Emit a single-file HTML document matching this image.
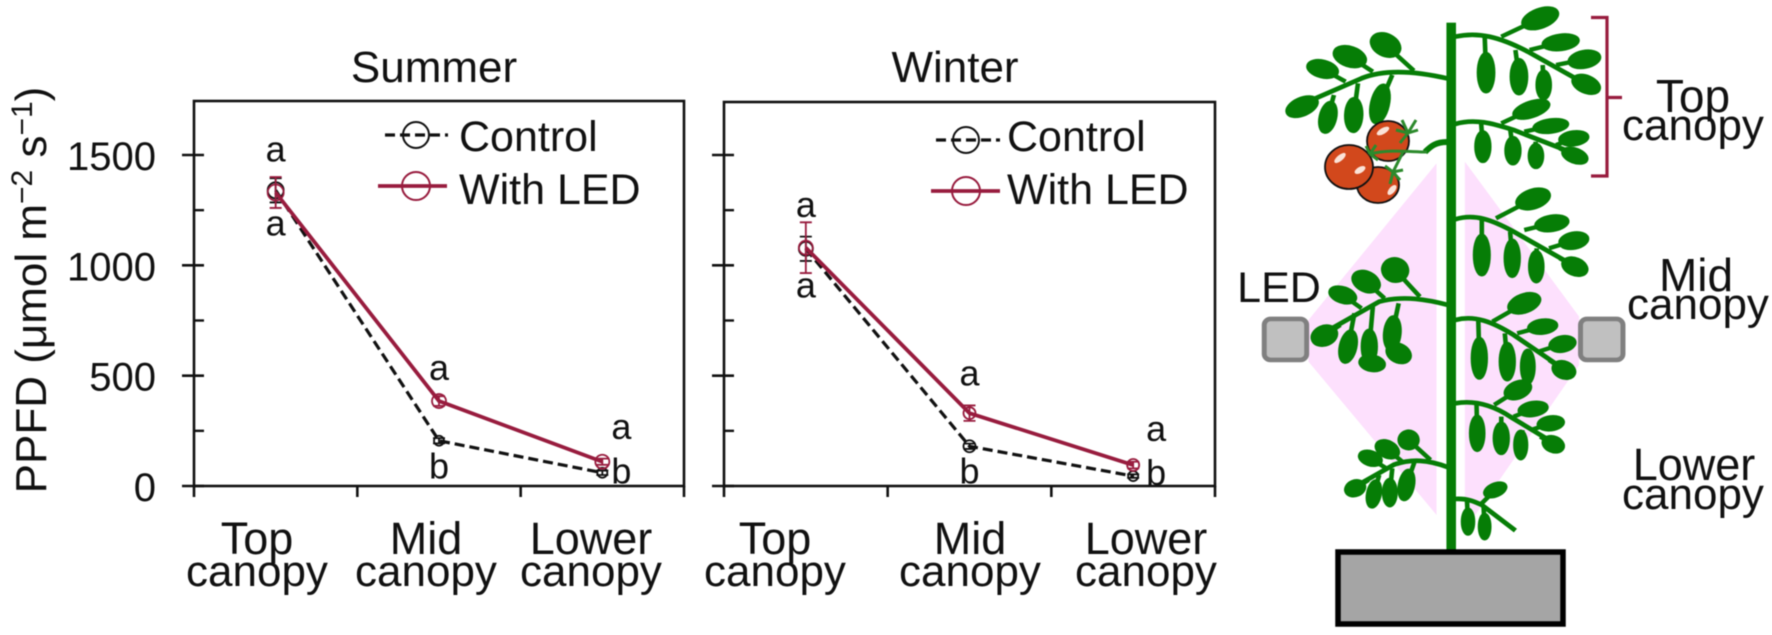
<!DOCTYPE html>
<html lang="en">
<head>
<meta charset="utf-8">
<title>PPFD by canopy position in summer and winter</title>
<style>
html,body{margin:0;padding:0;background:#fff;}
body{width:1772px;height:635px;overflow:hidden;}
svg{display:block;font-family:"Liberation Sans",sans-serif;fill:#111;filter:blur(0.5px);}
text{fill:#111;}
</style>
</head>
<body>
<svg id="fig" width="1772" height="635" viewBox="0 0 1772 635" xmlns="http://www.w3.org/2000/svg">
  <rect x="0" y="0" width="1772" height="635" fill="#fff"/>
  <text transform="translate(46,290) rotate(-90)" text-anchor="middle" font-size="44">PPFD (μmol m<tspan font-size="30" dy="-14">−2</tspan><tspan dy="14"> s</tspan><tspan font-size="30" dy="-14">−1</tspan><tspan dy="14">)</tspan></text>
  <g id="charts"></g>
  <g id="plant"></g>
  <g id="plant-labels" font-size="44" text-anchor="middle">
    <text x="1693" y="112" font-size="46">Top</text>
    <text x="1693" y="140">canopy</text>
    <text x="1696" y="291" font-size="46">Mid</text>
    <text x="1698" y="319">canopy</text>
    <text x="1694" y="480" font-size="45">Lower</text>
    <text x="1693" y="509">canopy</text>
    <text x="1279" y="302" font-size="43">LED</text>
  </g>
</svg>
<script>
var NS = 'http://www.w3.org/2000/svg';
function mk(parent, tag, attrs, txt) {
  var e = document.createElementNS(NS, tag);
  for (var k in attrs) e.setAttribute(k, attrs[k]);
  if (txt !== undefined) e.textContent = txt;
  parent.appendChild(e);
  return e;
}

/* ---- chart data ---- */
var categories = [['Top', 'canopy'], ['Mid', 'canopy'], ['Lower', 'canopy']];
var yTickLabels = [0, 500, 1000, 1500];
var yMinorTicks = [250, 750, 1250];
var seriesNames = ['Control', 'With LED'];

var summerControl = [1340, 205, 60];
var summerControlErr = [55, 12, 10];
var summerLed = [1330, 385, 110];
var summerLedErr = [70, 22, 14];
var summerLedLetters = ['a', 'a', 'a'];
var summerLedLetterAt = [1470, 480, 212];
var summerControlLetters = ['a', 'b', 'b'];
var summerControlLetterAt = [1135, 35, 12];

var winterControl = [1075, 180, 45];
var winterControlErr = [55, 12, 8];
var winterLed = [1080, 330, 95];
var winterLedErr = [115, 35, 15];
var winterLedLetters = ['a', 'a', 'a'];
var winterLedLetterAt = [1220, 455, 205];
var winterControlLetters = ['a', 'b', 'b'];
var winterControlLetterAt = [855, 12, 5];

/* ---- panel frames ---- */
var PANELS = [
  {key:'summer', title:'Summer', titleX:434, left:194, right:684, top:101, control:summerControl, controlErr:summerControlErr, led:summerLed, ledErr:summerLedErr,
   ledL:summerLedLetters, ledAt:summerLedLetterAt, ctlL:summerControlLetters, ctlAt:summerControlLetterAt, showY:true,
   catX:[257,426,591], nudge:19, legText:459, legCtl:[385,448,416,135], legLed:[378,447,416,186], r:[8,7,7], rc:[8,5,5]},
  {key:'winter', title:'Winter', titleX:955, left:724, right:1215, top:102, control:winterControl, controlErr:winterControlErr, led:winterLed, ledErr:winterLedErr,
   ledL:winterLedLetters, ledAt:winterLedLetterAt, ctlL:winterControlLetters, ctlAt:winterControlLetterAt, showY:false,
   catX:[775,970,1146], nudge:23, legText:1007, legCtl:[936,1000,966,140], legLed:[931,1000,966,191], r:[7,6,6], rc:[7,6,5]}
];
var Y0 = 486, PX_PER_UNIT = (486 - 155) / 1500;
var LED_COLOR = '#981c3e', INK = '#111';
function yScale(v) { return Y0 - v * PX_PER_UNIT; }

function drawSeries(g, p, xOf, vals, errs, radii, color, dash, width, name) {
  var d = vals.map(function (v, i) { return (i ? 'L' : 'M') + xOf(i) + ',' + yScale(v); }).join(' ');
  var line = mk(g, 'path', {d:d, fill:'none', stroke:color, 'stroke-width':width});
  
  
  if (dash) line.setAttribute('stroke-dasharray', dash);
  vals.forEach(function (v, i) {
    var x = xOf(i), hi = yScale(v + errs[i]), lo = yScale(v - errs[i]);
    var eb = mk(g, 'path', {d:'M' + x + ',' + hi + ' V' + lo + ' M' + (x - 6) + ',' + hi + ' H' + (x + 6) + ' M' + (x - 6) + ',' + lo + ' H' + (x + 6), fill:'none', stroke:color, 'stroke-width':1.8});
    
    
    var c = mk(g, 'circle', {cx:x, cy:yScale(v), r:radii[i], fill:'none', stroke:color, 'stroke-width':1.8});
    
    
  });
}

PANELS.forEach(function (p) {
  var g = mk(document.getElementById('charts'), 'g', {});
  
  
  var band = (p.right - p.left) / categories.length;
  function xOf(i) { return p.left + band * (i + 0.5); }

  var title = mk(g, 'text', {x:p.titleX, y:82, 'text-anchor':'middle', 'font-size':44}, p.title);
  
  

  var frame = mk(g, 'rect', {x:p.left, y:p.top, width:p.right - p.left, height:Y0 - p.top, fill:'none', stroke:INK, 'stroke-width':2.6});
  
  

  yTickLabels.forEach(function (v) {
    var t = mk(g, 'line', {x1:p.left - 12, x2:p.left + 10, y1:yScale(v), y2:yScale(v), stroke:INK, 'stroke-width':2.6});
    
    
    if (p.showY) {
      var l = mk(g, 'text', {x:156, y:yScale(v) + 15, 'text-anchor':'end', 'font-size':40}, String(v));
      
      
    }
  });
  yMinorTicks.forEach(function (v) {
    var t = mk(g, 'line', {x1:p.left, x2:p.left + 10, y1:yScale(v), y2:yScale(v), stroke:INK, 'stroke-width':2.4});
    
    
  });
  for (var i = 0; i <= categories.length; i++) {
    var tx = mk(g, 'line', {x1:p.left + band * i, x2:p.left + band * i, y1:Y0, y2:Y0 + 11, stroke:INK, 'stroke-width':2.6});
    
    
  }
  categories.forEach(function (c, i) {
    var a = mk(g, 'text', {x:p.catX[i], y:554, 'text-anchor':'middle', 'font-size':45}, c[0]);
    
    
    var b = mk(g, 'text', {x:p.catX[i], y:586, 'text-anchor':'middle', 'font-size':44}, c[1]);
    
    
  });

  drawSeries(g, p, xOf, p.control, p.controlErr, p.rc, '#111', '10 5', 3.2, p.key + '-control');
  drawSeries(g, p, xOf, p.led, p.ledErr, p.r, LED_COLOR, null, 3.8, p.key + '-led');

  [[p.ledL, p.ledAt], [p.ctlL, p.ctlAt]].forEach(function (pair) {
    pair[0].forEach(function (letter, i) {
      var nudge = i === 2 ? p.nudge : 0;
      var t = mk(g, 'text', {x:xOf(i) + nudge, y:yScale(pair[1][i]), 'text-anchor':'middle', 'font-size':36}, letter);
      
      
    });
  });

  var lc = mk(g, 'g', {});
  
  
  mk(lc, 'line', {x1:p.legCtl[0], x2:p.legCtl[1], y1:p.legCtl[3], y2:p.legCtl[3], stroke:'#111', 'stroke-width':3.2, 'stroke-dasharray':'10 5'});
  mk(lc, 'circle', {cx:p.legCtl[2], cy:p.legCtl[3], r:13, fill:'none', stroke:'#111', 'stroke-width':2});
  mk(lc, 'text', {x:p.legText, y:151, 'font-size':43}, seriesNames[0]);

  var ll = mk(g, 'g', {});
  
  
  mk(ll, 'line', {x1:p.legLed[0], x2:p.legLed[1], y1:p.legLed[3], y2:p.legLed[3], stroke:LED_COLOR, 'stroke-width':3.8});
  mk(ll, 'circle', {cx:p.legLed[2], cy:p.legLed[3], r:14, fill:'none', stroke:LED_COLOR, 'stroke-width':2});
  mk(ll, 'text', {x:p.legText, y:204, 'font-size':43}, seriesNames[1]);
});

/* ---- plant illustration ---- */
var plant = document.getElementById('plant');
var art = mk(plant, 'g', {transform:'translate(1220,0) scale(0.3538,0.3333)'});



var GREEN = '#067d06';
var lightLeft = mk(art, 'polygon', {points:'612,490 250,960 250,1085 612,1545', fill:'#fde0fd'});


var lightRight = mk(art, 'polygon', {points:'692,485 1015,950 1015,1095 692,1590', fill:'#fde0fd'});



/* each leaf: cx, cy, rx, ry, rotation, stem-attach x, stem-attach y */
var branches = [
  {main:'M645,236 C560,215 470,205 400,235 L270,295', leaves:[
    [232,320,46,25,-25,270,295],[305,352,22,46,12,322,285],[378,345,23,50,2,390,250],[452,312,24,58,12,487,225],
    [290,207,43,24,15,355,245],[367,170,46,28,20,432,215],[468,135,43,31,30,548,212]]},
  {main:'M665,110 C730,95 790,110 870,155 L1030,250', leaves:[
    [905,55,52,27,-22,795,110],[963,127,50,22,-8,875,150],[1030,178,44,24,-12,950,195],[1035,253,40,24,25,980,220],
    [752,218,22,58,0,748,105],[845,230,22,52,0,835,150],[915,255,19,42,0,912,195]]},
  {main:'M665,372 C720,355 770,370 830,390 L1000,460', leaves:[
    [880,328,52,22,-20,795,370],[935,378,48,19,-8,860,395],[1000,415,40,20,-8,950,435],[1003,467,36,20,22,960,445],
    [743,440,20,45,0,738,368],[828,452,20,40,0,820,385],[893,468,19,35,0,892,425]]},
  {main:'M665,658 C720,640 770,660 830,695 L1005,800', leaves:[
    [885,597,48,27,-20,780,655],[938,670,46,22,-10,860,690],[1000,722,40,23,-12,930,745],[1003,800,36,24,25,960,775],
    [740,765,21,60,0,740,650],[826,775,20,55,0,820,695],[894,800,19,46,0,895,745]]},
  {main:'M645,915 C590,900 520,885 450,905 L300,995', leaves:[
    [347,885,38,22,20,400,925],[413,845,40,28,30,465,895],[495,810,36,34,30,565,890],[295,1007,36,28,-25,340,975],
    [362,1040,22,48,12,380,940],[422,1040,20,50,0,432,920],[430,1090,35,22,10,425,1040],[487,1000,22,50,5,505,910],[505,1060,35,26,30,490,1010]]},
  {main:'M665,960 C720,945 770,965 830,1005 L975,1110', leaves:[
    [860,910,46,26,-22,770,965],[912,980,40,20,-8,840,1000],[968,1032,36,22,-12,900,1055],[972,1110,32,24,25,930,1080],
    [733,1075,20,60,0,730,960],[812,1085,20,55,0,805,1000],[870,1100,18,50,0,870,1050],[842,1170,38,24,-25,775,1215]]},
  {main:'M665,1210 C720,1200 770,1215 820,1250 L945,1330', leaves:[
    [885,1227,40,20,-10,830,1250],[935,1270,36,20,-8,880,1290],[942,1333,30,22,25,905,1310],
    [727,1300,19,52,0,725,1210],[795,1315,20,46,0,795,1250],[850,1335,17,42,0,855,1290]]},
  {main:'M645,1402 C590,1380 540,1375 490,1395 L390,1455', leaves:[
    [425,1375,32,20,20,470,1405],[473,1348,34,23,30,515,1385],[533,1320,27,27,30,595,1380],[382,1465,28,22,-25,420,1440],
    [435,1482,18,40,10,450,1425],[480,1478,18,40,0,487,1405],[527,1455,20,45,10,550,1385]]},
  {main:'M665,1497 C700,1495 720,1505 740,1515 L835,1592', leaves:[
    [778,1470,32,18,-25,735,1515],[701,1565,16,38,0,698,1500],[748,1580,15,37,0,745,1520]]}
];
branches.forEach(function (b) {
  var g = mk(art, 'g', {});
  
  
  mk(g, 'path', {d:b.main, fill:'none', stroke:GREEN, 'stroke-width':14});
  b.leaves.forEach(function (f) {
    mk(g, 'line', {x1:f[5], y1:f[6], x2:f[0], y2:f[1], stroke:GREEN, 'stroke-width':13});
    var leaf = mk(g, 'ellipse', {cx:f[0], cy:f[1], rx:f[2], ry:f[3], fill:GREEN, stroke:GREEN, 'stroke-width':9, transform:'rotate(' + f[4] + ' ' + f[0] + ' ' + f[1] + ')'});
    
    
  });
});
var mainStem = mk(art, 'rect', {x:640, y:68, width:27, height:1590, fill:GREEN});



[[118, 'left'], [1012, 'right']].forEach(function (b) {
  var r = mk(art, 'rect', {x:b[0] + 7, y:957, width:120, height:123, rx:18, ry:18, fill:'#c0c0c0', stroke:'#808080', 'stroke-width':14});
  
  
});

/* real-pixel layer */
var pot = mk(plant, 'rect', {x:1338, y:552, width:225, height:72, fill:'#a5a5a5', stroke:'#000', 'stroke-width':5.5});



var bracket = mk(plant, 'path', {d:'M1591,17.5 H1607 V176 H1591 M1607,97.5 H1622', fill:'none', stroke:'#981c3e', 'stroke-width':3.2});



var fruit = mk(plant, 'g', {});


mk(fruit, 'path', {d:'M1447,142 C1436,142 1431,146 1425,152', fill:'none', stroke:GREEN, 'stroke-width':6});
[[1388,141,21,20],[1378,185,21,18],[1349,167,24,22]].forEach(function (t) {
  var c = mk(fruit, 'ellipse', {cx:t[0], cy:t[1], rx:t[2], ry:t[3], fill:'#d2481c', stroke:'#111', 'stroke-width':1.8});
  
  
});
[[1383,131,7,3,-30],[1392,190,6,3,-50],[1340,158,7,3,-40],[1360,170,6,3,-30]].forEach(function (h) {
  mk(fruit, 'ellipse', {cx:h[0], cy:h[1], rx:h[2], ry:h[3], fill:'#fbe3d8', transform:'rotate(' + h[4] + ' ' + h[0] + ' ' + h[1] + ')'});
});
var vine = mk(fruit, 'path', {d:'M1427,152 C1410,152 1390,149 1370,154 M1403,152 L1393,172 M1408,133 L1418,130 M1408,133 L1402,120 M1408,133 L1416,120 M1408,133 L1400,143 M1408,133 L1396,130 M1393,172 L1403,170 M1393,172 L1385,166 M1393,172 L1390,184 M1393,172 L1400,180 M1370,154 L1366,146 M1370,154 L1378,160 M1370,154 L1376,145', fill:'none', stroke:'#2c8a2c', 'stroke-width':3});


</script>
</body>
</html>
